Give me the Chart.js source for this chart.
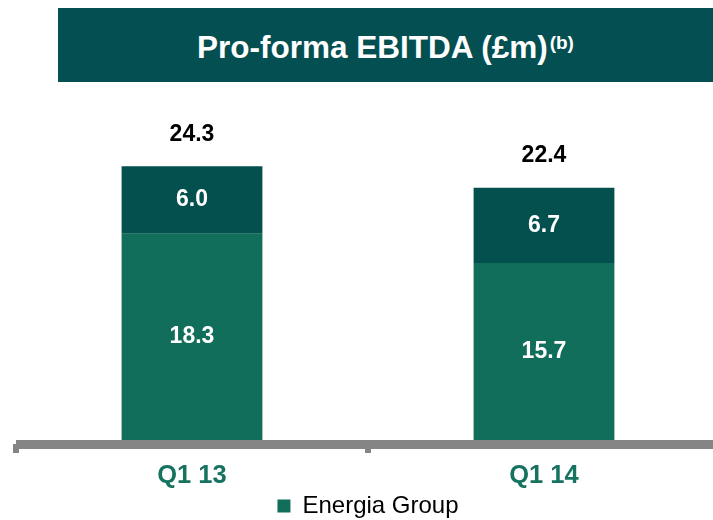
<!DOCTYPE html>
<html>
<head>
<meta charset="utf-8">
<script src="https://cdn.jsdelivr.net/npm/chart.js@4/dist/chart.umd.min.js"></script>
<style>
  html, body { margin: 0; padding: 0; background: #fff; overflow: hidden; }
  body { width: 713px; height: 520px; position: relative; font-family: "Liberation Sans", Arial, sans-serif; }
  #banner {
    position: absolute; left: 58px; top: 8px; width: 655px; height: 74px;
    background: #034f52; color: #fff; text-align: center;
    font-weight: bold; font-size: 31.5px; line-height: 78px; white-space: nowrap;
  }
  #banner sup { font-size: 19px; vertical-align: 9px; line-height: 0; margin-left: 2px; }
  #chart { position: absolute; left: 0; top: 0; }
</style>
</head>
<body>
<canvas id="chart" width="720" height="528"></canvas>
<div id="banner">Pro-forma EBITDA (£m)<sup>(b)</sup></div>
<script>
"use strict";

const categories = ["Q1 13", "Q1 14"];
const energiaGroup = [18.3, 15.7];
const otherPart = [6.0, 6.7];
const totals = [24.3, 22.4];

const LIGHT = "#116e5a";
const DARK = "#03504f";
const AXIS = "#858585";

Chart.defaults.font.family = "'Liberation Sans', Arial, sans-serif";

function el(id) { return document.getElementById(id); }

// thick grey base line with little stubs at the category edges
const axisLine = {
  id: "axisLine",
  beforeDatasetsDraw(chart) {
    const { ctx, chartArea, scales } = chart;
    const y0 = scales.y.getPixelForValue(0);
    ctx.save();
    ctx.fillStyle = AXIS;
    ctx.fillRect(chartArea.left, y0, chartArea.right - chartArea.left, 9);
    const step = scales.x.getPixelForValue(1) - scales.x.getPixelForValue(0);
    for (let i = 0; i < categories.length; i++) {
      const edge = scales.x.getPixelForValue(i) - step / 2;
      ctx.fillRect(edge - 3, y0 + 4, 6, 9);
    }
    ctx.restore();
  }
};

const valueLabels = {
  id: "valueLabels",
  afterDatasetsDraw(chart) {
    const { ctx } = chart;
    ctx.save();
    ctx.textAlign = "center";
    ctx.textBaseline = "middle";
    ctx.font = "bold 23px 'Liberation Sans', Arial, sans-serif";
    chart.data.datasets.forEach((d, di) => {
      chart.getDatasetMeta(di).data.forEach((bar, i) => {
        ctx.fillStyle = "#fff";
        ctx.fillText(d.data[i].toFixed(1), bar.x, (bar.y + bar.base) / 2);
      });
    });
    const top = chart.getDatasetMeta(chart.data.datasets.length - 1).data;
    top.forEach((bar, i) => {
      ctx.fillStyle = "#000";
      ctx.fillText(totals[i].toFixed(1), bar.x, bar.y - 32);
    });
    ctx.restore();
  }
};

new Chart(el("chart"), {
  type: "bar",
  data: {
    labels: categories,
    datasets: [
      { label: "Energia Group", data: energiaGroup, backgroundColor: LIGHT, borderWidth: 0,
        categoryPercentage: 1, barPercentage: 0.4 },
      { label: "Other", data: otherPart, backgroundColor: DARK, borderWidth: 0,
        categoryPercentage: 1, barPercentage: 0.4 }
    ]
  },
  options: {
    responsive: false,
    animation: false,
    layout: { padding: { top: 102, left: 16, right: 0, bottom: 0 } },
    plugins: {
      title: { display: false },
      tooltip: { enabled: false },
      legend: {
        position: "bottom",
        labels: {
          boxWidth: 13, boxHeight: 13, padding: 4, color: "#000",
          font: { size: 24 },
          filter: (item) => item.datasetIndex === 0
        }
      }
    },
    scales: {
      x: {
        stacked: true,
        grid: { display: false, drawTicks: false },
        border: { display: false },
        ticks: { color: "#167360", padding: 21, font: { size: 25.5, weight: "bold" } },
        afterFit(scale) { scale.height = 50; }
      },
      y: {
        stacked: true, display: false, min: 0, max: 30
      }
    }
  },
  plugins: [axisLine, valueLabels]
});
</script>
</body>
</html>
